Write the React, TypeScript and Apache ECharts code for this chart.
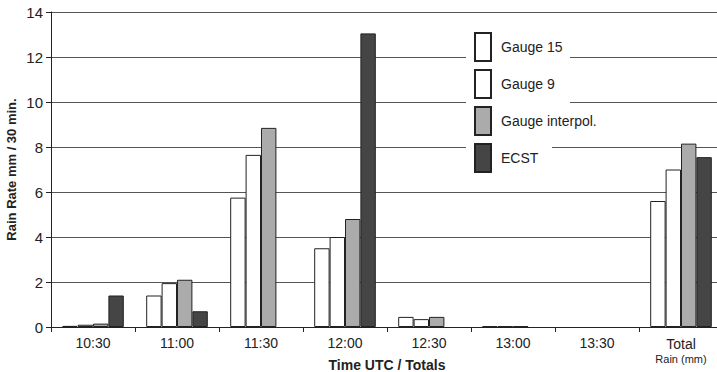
import React, { useEffect, useRef } from "react";
import * as echarts from "echarts";

const categories = ["10:30", "11:00", "11:30", "12:00", "12:30", "13:00", "13:30", "Total"];
const gauge15 = [0.05, 1.4, 5.75, 3.5, 0.45, 0.03, null, 5.6];
const gauge9 = [0.1, 1.95, 7.65, 4.0, 0.35, 0.03, null, 7.0];
const gaugeInterp = [0.15, 2.1, 8.85, 4.8, 0.45, 0.03, null, 8.15];
const ecst = [1.4, 0.7, null, 13.05, null, null, null, 7.55];
const yTicks = { min: 0, max: 14, interval: 2 };

const FONT = "'Liberation Sans', Arial, Helvetica, sans-serif";
const TEXT = "#222";

export default function App() {
  const ref = useRef<HTMLDivElement>(null);
  useEffect(() => {
    if (!ref.current) return;
    const chart = echarts.init(ref.current, null, { renderer: "svg" });
    const barBase = {
      type: "bar" as const,
      barWidth: 15.4,
      barGap: "0%",
      z: 3,
    };
    chart.setOption({
      animation: false,
      backgroundColor: "#fff",
      textStyle: { fontFamily: FONT, color: TEXT },
      grid: { left: 51, top: 12, bottom: 45, right: 7, containLabel: false, outerBoundsMode: "none" },
      legend: {
        orient: "vertical",
        left: 474,
        top: 32,
        padding: 0,
        itemWidth: 16,
        itemHeight: 28,
        itemGap: 7,
        icon: "rect",
        z: 10,
        textStyle: { fontFamily: FONT, fontSize: 14, color: TEXT, padding: [0, 0, 0, 5] },
        data: ["Gauge 15", "Gauge 9", "Gauge interpol.", "ECST"],
      },
      graphic: [
        { type: "rect", z: 1, shape: { x: 466, y: 22, width: 104, height: 112 }, style: { fill: "#fff" } },
        { type: "rect", z: 1, shape: { x: 466, y: 134, width: 86, height: 42 }, style: { fill: "#fff" } },
      ],
      xAxis: {
        type: "category",
        data: categories,
        name: "Time UTC / Totals",
        nameLocation: "middle",
        nameGap: 38,
        nameMoveOverlap: false,
        nameTextStyle: { fontFamily: FONT, fontSize: 14, fontWeight: "bold", color: TEXT, verticalAlign: "middle" },
        axisLine: { lineStyle: { color: "#222", width: 1 } },
        axisTick: { show: true, length: 5, lineStyle: { color: "#222" } },
        axisLabel: {
          interval: 0,
          margin: 9,
          fontFamily: FONT,
          fontSize: 14,
          color: TEXT,
          formatter: (v: string) => (v === "Total" ? "{a|Total}\n{b|Rain (mm)}" : v),
          rich: {
            a: { fontFamily: FONT, fontSize: 14, color: TEXT, lineHeight: 16 },
            b: { fontFamily: FONT, fontSize: 11, color: TEXT, lineHeight: 13 },
          },
        },
        splitLine: { show: false },
      },
      yAxis: {
        type: "value",
        min: yTicks.min,
        max: yTicks.max,
        interval: yTicks.interval,
        name: "Rain Rate mm / 30 min.",
        nameLocation: "middle",
        nameGap: 40,
        nameMoveOverlap: false,
        nameTextStyle: { fontFamily: FONT, fontSize: 13, fontWeight: "bold", color: TEXT, verticalAlign: "middle" },
        axisLine: { show: true, lineStyle: { color: "#222", width: 1 } },
        axisTick: { show: true, length: 5, lineStyle: { color: "#222" } },
        axisLabel: { margin: 8, fontFamily: FONT, fontSize: 15, color: TEXT },
        splitLine: { show: true, lineStyle: { color: "#555", width: 1 } },
      },
      series: [
        { ...barBase, name: "Gauge 15", data: gauge15, itemStyle: { color: "#fff", borderColor: "#222", borderWidth: 1 } },
        { ...barBase, name: "Gauge 9", data: gauge9, itemStyle: { color: "#fff", borderColor: "#222", borderWidth: 1 } },
        { ...barBase, name: "Gauge interpol.", data: gaugeInterp, itemStyle: { color: "#ababab", borderColor: "#222", borderWidth: 1 } },
        { ...barBase, name: "ECST", data: ecst, itemStyle: { color: "#454545", borderColor: "#222", borderWidth: 1 } },
      ],
    });
    return () => chart.dispose();
  }, []);
  return (
    <div style={{ position: "absolute", left: 0, top: 0, width: 717, height: 372, overflow: "hidden", background: "#fff" }}>
      <div ref={ref} style={{ width: 730, height: 372 }} />
    </div>
  );
}
